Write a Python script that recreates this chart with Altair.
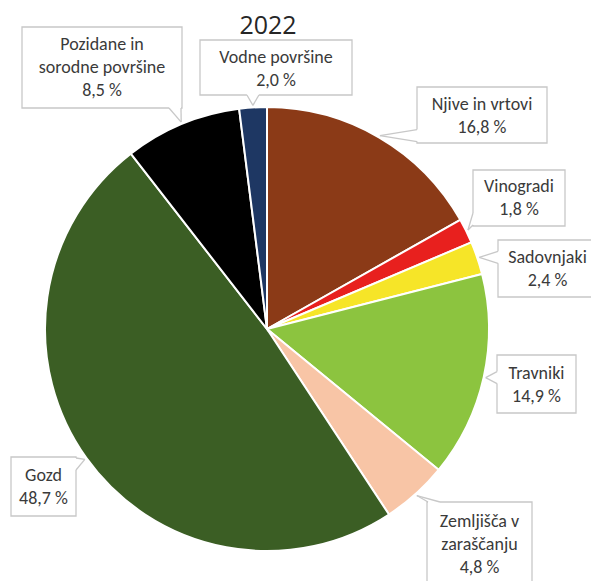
import math
import altair as alt
import pandas as pd

# ---- data ----
categories = ["Njive in vrtovi", "Vinogradi", "Sadovnjaki", "Travniki",
              "Zemljišča v zaraščanju", "Gozd", "Pozidane in sorodne površine",
              "Vodne površine"]
label_lines = ["Njive in vrtovi", "Vinogradi", "Sadovnjaki", "Travniki",
               "Zemljišča v\nzaraščanju", "Gozd", "Pozidane in\nsorodne površine",
               "Vodne površine"]
values = [16.8, 1.8, 2.4, 14.9, 4.8, 48.7, 8.5, 2.0]
colors = ["#8B3A17", "#E8201E", "#F6E528", "#8CC43F", "#F8C5A6", "#3B5E24",
          "#000000", "#1E3763"]
title_text = "2022"

# ---- layout (page pixel coords of label boxes) ----
OFF = 8
CX, CY, R = 267, 329, 222
LH = 23
boxes = {  # x0, x1, y0, y1, text centre y, side of pointer
    "Njive in vrtovi": (417, 547, 87, 143, 116, "left"),
    "Vinogradi": (473, 565, 170, 226, 198, "left"),
    "Sadovnjaki": (498, 597, 240, 297, 269, "left"),
    "Travniki": (497, 576, 355, 413, 385, "left"),
    "Zemljišča v zaraščanju": (427, 532, 502, 592, 545, "top"),
    "Gozd": (11, 76, 457, 516, 487, "right"),
    "Pozidane in sorodne površine": (22, 182, 27, 108, 68, "bottom"),
    "Vodne površine": (200, 352, 40, 95, 69, "bottom"),
}

fmt = lambda v: f"{v:.1f}".replace(".", ",") + " %"
total = sum(values)
pie_df = pd.DataFrame({"cat": categories, "value": values, "color": colors,
                       "idx": list(range(len(values)))})

box_rows, ptr_rows, gap_rows, txt_rows = [], [], [], []
cum = 0.0
for cat, lab, v in zip(categories, label_lines, values):
    mid = (cum + v / 2) / total * 2 * math.pi
    cum += v
    tx = CX + (R + 2) * math.sin(mid)
    ty = CY - (R + 2) * math.cos(mid)
    x0, x1, y0, y1, yc, side = boxes[cat]
    box_rows.append({"x0": x0 - OFF, "x1": x1 - OFF, "y0": y0 - OFF, "y1": y1 - OFF})
    lines = (lab + "\n" + fmt(v)).split("\n")
    txt_rows.append({"x": (x0 + x1) / 2 - OFF,
                     "y": yc - (len(lines) - 1) * LH / 2 - OFF,
                     "t": lines})
    s = 6
    if side in ("left", "right"):
        ex = x0 if side == "left" else x1
        by = min(max(ty, y0 + s + 1), y1 - s - 1)
        bases = [(ex, by - s), (ex, by + s)]
    else:
        ey = y0 if side == "top" else y1
        bx = min(max(tx, x0 + s + 1), x1 - s - 1)
        bases = [(bx - s, ey), (bx + s, ey)]
    gap_rows.append({"x": bases[0][0] - OFF, "y": bases[0][1] - OFF,
                     "x2": bases[1][0] - OFF, "y2": bases[1][1] - OFF})
    for bx_, by_ in bases:
        ptr_rows.append({"x": bx_ - OFF, "y": by_ - OFF, "x2": tx - OFF, "y2": ty - OFF})

pie = alt.Chart(pie_df).mark_arc(radius=R, stroke="white", strokeWidth=2).encode(
    theta=alt.Theta("value:Q", stack=True),
    order=alt.Order("idx:Q"),
    color=alt.Color("color:N", scale=None),
    x=alt.value(CX - OFF),
    y=alt.value(CY - OFF),
)

boxes_layer = alt.Chart(pd.DataFrame(box_rows)).mark_rect(
    fill="white", stroke="#c8c8c8", strokeWidth=1.3).encode(
    x=alt.X("x0:Q", scale=None), x2="x1:Q",
    y=alt.Y("y0:Q", scale=None), y2="y1:Q")

gaps = alt.Chart(pd.DataFrame(gap_rows)).mark_rule(color="white", strokeWidth=2).encode(
    x=alt.X("x:Q", scale=None), y=alt.Y("y:Q", scale=None), x2="x2:Q", y2="y2:Q")

ptrs = alt.Chart(pd.DataFrame(ptr_rows)).mark_rule(color="#c8c8c8", strokeWidth=1.3).encode(
    x=alt.X("x:Q", scale=None), y=alt.Y("y:Q", scale=None), x2="x2:Q", y2="y2:Q")

texts = alt.Chart(pd.DataFrame(txt_rows)).mark_text(
    font="Carlito, Roboto", fontSize=18, fontWeight=500, color="#3a3a3a",
    align="center", baseline="middle", lineHeight=LH).encode(
    x=alt.X("x:Q", scale=None), y=alt.Y("y:Q", scale=None), text="t")

title = alt.Chart(pd.DataFrame({"t": [title_text]})).mark_text(
    font="Open Sans", fontSize=25, color="#262626", align="center",
    baseline="alphabetic").encode(
    x=alt.value(268 - OFF), y=alt.value(34 - OFF), text="t:N")

chart = alt.layer(pie, boxes_layer, gaps, ptrs, texts, title).properties(
    width=583, height=573, padding=0, autosize="none"
).configure_view(stroke=None)

chart.save("out.html", embed_options={"renderer": "svg", "actions": False})
